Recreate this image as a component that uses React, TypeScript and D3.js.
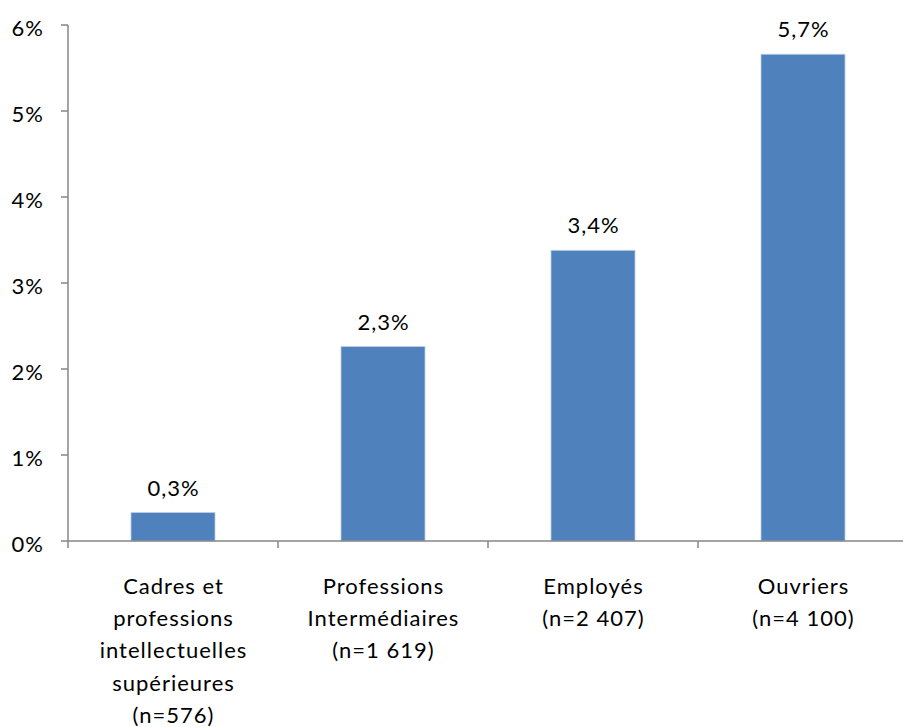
import React from "react";
import * as d3 from "d3";

const categories: string[][] = [
  ["Cadres et", "professions", "intellectuelles", "supérieures", "(n=576)"],
  ["Professions", "Intermédiaires", "(n=1 619)"],
  ["Employés", "(n=2 407)"],
  ["Ouvriers", "(n=4 100)"],
];
const values: number[] = [0.33, 2.26, 3.38, 5.66];
const yTicks: number[] = [0, 1, 2, 3, 4, 5, 6];

const W = 903;
const H = 727;
const left = 68;
const right = 908;
const top = 25;
const bottom = 541;
const font = "Lato, 'Open Sans', sans-serif";
const fs = 22;
const ls = 1;

export default function App() {
  const x = d3
    .scaleBand<number>()
    .domain(values.map((_, i) => i))
    .range([left, right])
    .paddingInner(0.6)
    .paddingOuter(0.3);
  const bandStep = (right - left) / values.length;
  const y = d3.scaleLinear().domain([0, 6]).range([bottom, top]);
  const fmt = (v: number) => d3.format(".1f")(v).replace(".", ",") + "%";
  const catTicks = d3.range(values.length + 1).map((i) => left + i * bandStep);

  return (
    <svg width={W} height={H} style={{ position: "absolute", left: 0, top: 0 }} fontFamily={font}>
      <rect width={W} height={H} fill="#fff" />
      {values.map((v, i) => (
        <g key={i}>
          <rect
            x={x(i)!}
            y={y(v)}
            width={x.bandwidth()}
            height={bottom - y(v)}
            fill="#4F81BD"
            stroke="#B9CDE5"
            strokeWidth={0.8}
          />
          <text
            x={x(i)! + x.bandwidth() / 2 + ls / 2}
            y={y(v) - 17}
            textAnchor="middle"
            fontSize={fs}
            letterSpacing={ls}
            fill="#000"
          >
            {fmt(v)}
          </text>
        </g>
      ))}
      <line x1={left} x2={left} y1={top} y2={bottom} stroke="#868686" strokeWidth={1.5} />
      <line x1={left} x2={W} y1={bottom} y2={bottom} stroke="#868686" strokeWidth={1.5} />
      {yTicks.map((t) => (
        <g key={t}>
          <line x1={left - 7} x2={left} y1={y(t)} y2={y(t)} stroke="#868686" strokeWidth={1.5} />
          <text x={44} y={y(t) + 11} textAnchor="end" fontSize={fs} letterSpacing={ls} fill="#000">
            {t + "%"}
          </text>
        </g>
      ))}
      {catTicks.map((cx, i) => (
        <line key={i} x1={cx} x2={cx} y1={bottom} y2={bottom + 7} stroke="#868686" strokeWidth={1.5} />
      ))}
      {categories.map((lines, i) => (
        <text
          key={i}
          x={x(i)! + x.bandwidth() / 2}
          textAnchor="middle"
          fontSize={fs}
          letterSpacing={ls}
          fill="#000"
        >
          {lines.map((l, j) => (
            <tspan key={j} x={x(i)! + x.bandwidth() / 2 + ls / 2} y={594 + j * 32.2}>
              {l}
            </tspan>
          ))}
        </text>
      ))}
    </svg>
  );
}
